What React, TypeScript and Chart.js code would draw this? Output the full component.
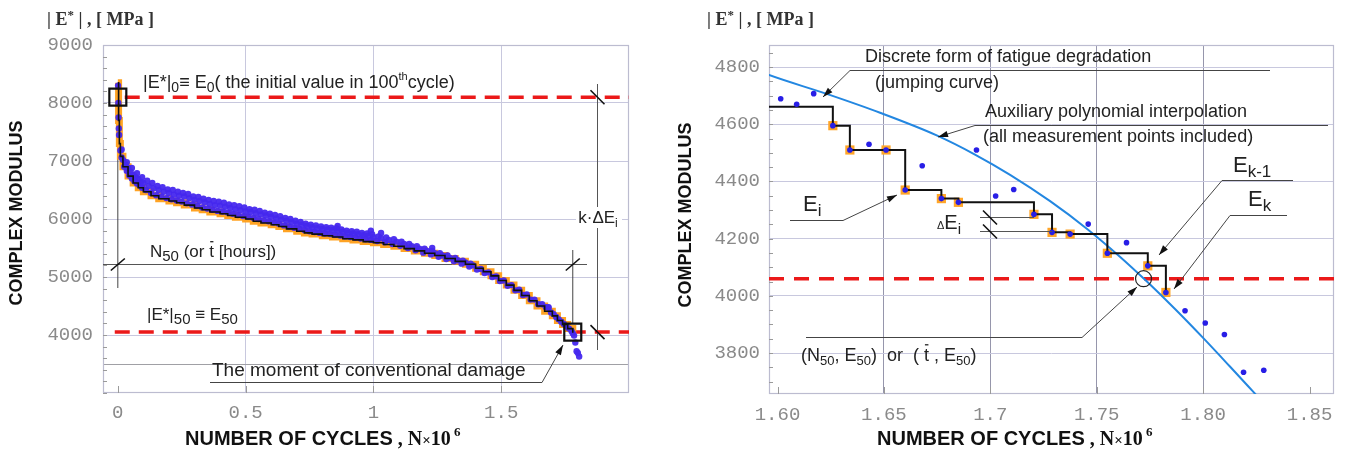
import React, { useEffect, useRef } from "react";
import { Chart, registerables } from "chart.js";

Chart.register(...registerables);

const SANS = '"Liberation Sans", Arial, Helvetica, sans-serif';
const SERIF = '"Liberation Serif", "Times New Roman", serif';
const MONO = '"Liberation Mono", "Courier New", monospace';

// ---------------- LEFT PANEL DATA ----------------
const leftXTicks = [0, 0.5, 1, 1.5];
const leftXLabels = ["0", "0.5", "1", "1.5"];
const leftYTicks = [3500, 4000, 5000, 6000, 7000, 8000, 9000];
const leftE0 = 8100;
const leftE50 = 4050;
const leftN50 = 1.78;

// measured points (blue cloud)
const leftMeasured: [number, number][] = [
  [0.001, 8300], [0.002, 8000], [0.003, 7750], [0.004, 7560], [0.005, 7450], [0.01, 7180], [0.015, 7060], [0.02, 7020],
  [0.025, 6900], [0.03, 6940], [0.035, 6830], [0.04, 6880], [0.045, 6750], [0.05, 6810], [0.055, 6700], [0.06, 6760],
  [0.065, 6650], [0.07, 6720], [0.075, 6610], [0.08, 6690], [0.085, 6580], [0.09, 6640], [0.095, 6540], [0.1, 6620],
  [0.11, 6500], [0.12, 6570], [0.13, 6450], [0.14, 6530], [0.15, 6410], [0.16, 6500], [0.17, 6390], [0.18, 6470],
  [0.19, 6360], [0.2, 6450], [0.21, 6340], [0.22, 6420], [0.23, 6320], [0.24, 6400], [0.25, 6300], [0.26, 6390],
  [0.27, 6270], [0.28, 6360], [0.29, 6250], [0.3, 6330], [0.31, 6230], [0.32, 6310], [0.33, 6200], [0.34, 6290],
  [0.35, 6180], [0.36, 6260], [0.37, 6160], [0.38, 6240], [0.39, 6140], [0.4, 6230], [0.41, 6130], [0.42, 6210],
  [0.43, 6110], [0.44, 6190], [0.45, 6090], [0.46, 6170], [0.47, 6070], [0.48, 6150], [0.49, 6050], [0.5, 6130],
  [0.51, 6040], [0.52, 6120], [0.53, 6020], [0.54, 6100], [0.55, 6000], [0.56, 6080], [0.57, 5980], [0.58, 6060],
  [0.59, 5960], [0.6, 6040], [0.61, 5940], [0.62, 6010], [0.63, 5920], [0.64, 5990], [0.65, 5890], [0.66, 5970],
  [0.67, 5870], [0.68, 5950], [0.69, 5850], [0.7, 5920], [0.71, 5830], [0.72, 5900], [0.73, 5810], [0.74, 5880],
  [0.75, 5790], [0.76, 5860], [0.77, 5775], [0.78, 5840], [0.79, 5760], [0.8, 5830], [0.81, 5750], [0.82, 5820],
  [0.83, 5740], [0.84, 5810], [0.85, 5730], [0.86, 5800], [0.87, 5715], [0.88, 5780], [0.89, 5700], [0.9, 5760],
  [0.91, 5690], [0.92, 5750], [0.93, 5680], [0.94, 5740], [0.95, 5665], [0.96, 5720], [0.97, 5650], [0.98, 5710],
  [0.99, 5640], [1.0, 5690], [1.015, 5620], [1.03, 5670], [1.045, 5600], [1.06, 5640], [1.075, 5570], [1.09, 5610],
  [1.105, 5540], [1.12, 5570], [1.135, 5500], [1.15, 5530], [1.165, 5460], [1.18, 5490], [1.195, 5420], [1.21, 5450],
  [1.225, 5390], [1.24, 5410], [1.255, 5350], [1.27, 5370], [1.285, 5310], [1.3, 5330], [1.315, 5270], [1.33, 5290],
  [1.345, 5230], [1.36, 5250], [1.375, 5180], [1.39, 5200], [1.405, 5130], [1.42, 5140], [1.435, 5070], [1.45, 5080],
  [1.465, 5000], [1.48, 5010], [1.495, 4930], [1.51, 4940], [1.525, 4850], [1.54, 4860], [1.555, 4770], [1.57, 4780],
  [1.585, 4690], [1.6, 4700], [1.615, 4610], [1.63, 4610], [1.645, 4530], [1.66, 4530], [1.675, 4480], [1.685, 4470],
  [1.695, 4390], [1.705, 4360], [1.715, 4310], [1.725, 4270], [1.735, 4230], [1.745, 4190], [1.755, 4150], [1.765, 4110],
  [1.775, 4070], [1.78, 4030], [1.785, 3990], [1.79, 3870], [1.795, 3720], [1.8, 3690], [1.805, 3630],
  // upper edge of the scatter band
  [0.015, 7200], [0.035, 6980], [0.055, 6880], [0.075, 6790], [0.095, 6720], [0.115, 6660], [0.135, 6620], [0.155, 6570],
  [0.175, 6550], [0.195, 6510], [0.215, 6500], [0.235, 6470], [0.255, 6450], [0.275, 6430], [0.295, 6390], [0.315, 6380],
  [0.335, 6350], [0.355, 6330], [0.375, 6310], [0.395, 6300], [0.415, 6280], [0.435, 6250], [0.455, 6240], [0.475, 6220],
  [0.495, 6200], [0.515, 6170], [0.535, 6160], [0.555, 6140], [0.575, 6110], [0.595, 6090], [0.615, 6070], [0.635, 6050],
  [0.655, 6020], [0.675, 6000], [0.695, 5970], [0.715, 5950], [0.735, 5920], [0.755, 5900], [0.775, 5890], [0.795, 5870],
  [0.815, 5860], [0.835, 5850], [0.855, 5840], [0.875, 5820], [0.895, 5800], [0.915, 5790], [0.935, 5780], [0.955, 5760],
  [0.975, 5750], [0.995, 5740], [1.02, 5700], [1.05, 5680], [1.08, 5650], [1.11, 5610], [1.14, 5570], [1.17, 5530],
  [1.2, 5490], [1.23, 5450], [1.26, 5410], [1.29, 5370], [1.32, 5330], [1.35, 5280], [1.38, 5230],
  // isolated outliers
  [0.86, 5880], [0.99, 5800], [1.03, 5760], [1.23, 5500], [1.685, 4480],
];

// discrete (jumping) values
const leftSteps: [number, number][] = [
  [0, 8350], [0.003, 7700], [0.006, 7300], [0.01, 7080], [0.02, 6900], [0.04, 6740], [0.06, 6620], [0.08, 6540],
  [0.1, 6470], [0.13, 6400], [0.16, 6350], [0.2, 6310], [0.23, 6280], [0.26, 6240], [0.3, 6190], [0.33, 6160],
  [0.36, 6120], [0.4, 6090], [0.43, 6060], [0.46, 6030], [0.5, 6000], [0.53, 5960], [0.56, 5930], [0.6, 5900],
  [0.63, 5870], [0.66, 5830], [0.7, 5790], [0.73, 5760], [0.76, 5740], [0.8, 5710], [0.84, 5690], [0.88, 5660],
  [0.92, 5640], [0.96, 5610], [1.0, 5590], [1.04, 5560], [1.08, 5530], [1.12, 5490], [1.16, 5450], [1.2, 5410],
  [1.24, 5370], [1.28, 5320], [1.32, 5270], [1.36, 5220], [1.4, 5150], [1.43, 5090], [1.46, 5020], [1.49, 4940],
  [1.52, 4860], [1.55, 4770], [1.58, 4680], [1.61, 4590], [1.64, 4500], [1.67, 4410], [1.7, 4330], [1.72, 4250],
  [1.74, 4180], [1.76, 4110], [1.78, 4040],
];

// ---------------- RIGHT PANEL DATA ----------------
const rightXTicks = [1.6, 1.65, 1.7, 1.75, 1.8, 1.85];
const rightXLabels = ["1.60", "1.65", "1.7", "1.75", "1.80", "1.85"];
const rightYTicks = [3800, 4000, 4200, 4400, 4600, 4800];
const rightE50 = 4060;
const rightN50 = 1.772;

const rightMeasured: [number, number][] = [
  [1.6015, 4689], [1.609, 4670], [1.617, 4707], [1.626, 4595], [1.634, 4510], [1.643, 4530], [1.651, 4510],
  [1.66, 4370], [1.668, 4455], [1.677, 4340], [1.685, 4327], [1.6935, 4510], [1.7025, 4349], [1.711, 4372],
  [1.7205, 4285], [1.729, 4222], [1.7375, 4216], [1.746, 4251], [1.755, 4149], [1.764, 4186], [1.774, 4105],
  [1.7825, 4012], [1.7915, 3948], [1.801, 3905], [1.81, 3865], [1.819, 3733], [1.8285, 3740],
];

const rightDiscrete: [number, number][] = [
  [1.626, 4595], [1.634, 4510], [1.651, 4510], [1.66, 4370], [1.677, 4340], [1.685, 4327], [1.7205, 4285],
  [1.729, 4222], [1.7375, 4216], [1.755, 4149], [1.774, 4105], [1.7825, 4012],
];
const rightStepStart: [number, number] = [1.59, 4661];

const rightPolynomial: [number, number][] = [
  [1.59, 4790], [1.596, 4772], [1.6231, 4706], [1.6482, 4640], [1.6748, 4561], [1.6928, 4494], [1.7093, 4423],
  [1.7281, 4331], [1.7455, 4234], [1.7609, 4137], [1.7736, 4050], [1.7868, 3954], [1.8, 3853], [1.8126, 3753],
  [1.8234, 3666], [1.8276, 3632],
];

// ---------------- helpers ----------------
type Pt = [number, number];
const xy = (arr: Pt[]) => arr.map(([x, y]) => ({ x, y }));

type Run = { t: string; size?: number; dy?: number; bar?: boolean; family?: string; weight?: string };

function drawRuns(
  ctx: CanvasRenderingContext2D,
  runs: Run[],
  x: number,
  y: number,
  base: number,
  opts: { family?: string; weight?: string; color?: string; align?: "left" | "center" } = {}
) {
  const family = opts.family ?? SANS;
  const weight = opts.weight ?? "normal";
  const color = opts.color ?? "#222";
  const items = runs.map((r) => {
    const size = r.size ?? base;
    const font = `${r.weight ?? weight} ${size}px ${r.family ?? family}`;
    ctx.font = font;
    return { r, size, font, w: ctx.measureText(r.t).width };
  });
  const total = items.reduce((s, it) => s + it.w, 0);
  let cx = opts.align === "center" ? x - total / 2 : x;
  ctx.fillStyle = color;
  ctx.textAlign = "left";
  ctx.textBaseline = "alphabetic";
  for (const it of items) {
    ctx.font = it.font;
    const yy = y + (it.r.dy ?? 0);
    ctx.fillText(it.r.t, cx, yy);
    if (it.r.bar) {
      ctx.save();
      ctx.strokeStyle = color;
      ctx.lineWidth = 1.3;
      ctx.beginPath();
      ctx.moveTo(cx + 1, yy - it.size * 0.9);
      ctx.lineTo(cx + it.w - 0.5, yy - it.size * 0.9);
      ctx.stroke();
      ctx.restore();
    }
    cx += it.w;
  }
  return total;
}

function poly(ctx: CanvasRenderingContext2D, pts: Pt[], color = "#555", width = 1) {
  ctx.save();
  ctx.strokeStyle = color;
  ctx.lineWidth = width;
  ctx.setLineDash([]);
  ctx.beginPath();
  pts.forEach(([x, y], i) => (i ? ctx.lineTo(x, y) : ctx.moveTo(x, y)));
  ctx.stroke();
  ctx.restore();
}

function arrow(ctx: CanvasRenderingContext2D, pts: Pt[], color = "#444") {
  poly(ctx, pts, color, 1);
  const [x1, y1] = pts[pts.length - 2];
  const [x2, y2] = pts[pts.length - 1];
  const a = Math.atan2(y2 - y1, x2 - x1);
  const L = 10;
  const W = 3.2;
  ctx.save();
  ctx.fillStyle = "#111";
  ctx.beginPath();
  ctx.moveTo(x2, y2);
  ctx.lineTo(x2 - L * Math.cos(a) + W * Math.sin(a), y2 - L * Math.sin(a) - W * Math.cos(a));
  ctx.lineTo(x2 - L * Math.cos(a) - W * Math.sin(a), y2 - L * Math.sin(a) + W * Math.cos(a));
  ctx.closePath();
  ctx.fill();
  ctx.restore();
}

function slash(ctx: CanvasRenderingContext2D, x: number, y: number, dir: "/" | "\\") {
  if (dir === "/") poly(ctx, [[x - 7, y + 6], [x + 7, y - 6]], "#111", 1.6);
  else poly(ctx, [[x - 7, y - 7], [x + 7, y + 7]], "#111", 1.6);
}

function yTitle(ctx: CanvasRenderingContext2D, x: number, y: number) {
  ctx.save();
  ctx.translate(x, y);
  ctx.rotate(-Math.PI / 2);
  ctx.font = `bold 18px ${SANS}`;
  ctx.fillStyle = "#111";
  ctx.textAlign = "center";
  ctx.textBaseline = "middle";
  ctx.fillText("COMPLEX MODULUS", 0, 0);
  ctx.restore();
}

function xTitle(ctx: CanvasRenderingContext2D, x: number, y: number) {
  drawRuns(
    ctx,
    [
      { t: "NUMBER OF CYCLES", family: SANS },
      { t: " , ", family: SERIF },
      { t: "N", family: SERIF },
      { t: "\u00d7", family: SERIF, size: 15 },
      { t: "10", family: SERIF },
      { t: " 6", family: SERIF, size: 13, dy: -9 },
    ],
    x,
    y,
    20,
    { weight: "bold", color: "#111" }
  );
}

function unitLabel(ctx: CanvasRenderingContext2D, x: number, y: number) {
  drawRuns(
    ctx,
    [{ t: "| E" }, { t: "*", size: 13, dy: -6 }, { t: " | , [ MPa ]" }],
    x,
    y,
    18,
    { family: SERIF, weight: "bold", color: "#333" }
  );
}

function minorTicks(ctx: CanvasRenderingContext2D, chart: any, yValues: number[], xValues: number[]) {
  const a = chart.chartArea;
  const sx = chart.scales.x;
  const sy = chart.scales.y;
  ctx.save();
  ctx.strokeStyle = "#9a9a9a";
  ctx.lineWidth = 1;
  ctx.beginPath();
  for (const v of yValues) {
    const y = Math.round(sy.getPixelForValue(v)) + 0.5;
    ctx.moveTo(a.left, y);
    ctx.lineTo(a.left + 4, y);
  }
  for (const v of xValues) {
    const x = Math.round(sx.getPixelForValue(v)) + 0.5;
    ctx.moveTo(x, a.bottom);
    ctx.lineTo(x, a.bottom - 7);
  }
  ctx.stroke();
  ctx.restore();
}

function frame(ctx: CanvasRenderingContext2D, a: any) {
  ctx.save();
  ctx.strokeStyle = "rgb(188,188,208)";
  ctx.lineWidth = 1.2;
  ctx.strokeRect(Math.round(a.left) + 0.5, Math.round(a.top) + 0.5, Math.round(a.right - a.left) - 1, Math.round(a.bottom - a.top) - 1);
  ctx.restore();
}

// minor tick positions (axis decoration)
const leftMinorY = [3000, 3200, 3400, 3600, 3800, 4000, 4200, 4400, 4600, 4800, 5000, 5200, 5400, 5600, 5800, 6000, 6200, 6400, 6600, 6800, 7000, 7200, 7400, 7600, 7800, 8000, 8200, 8400, 8600, 8800];
const rightMinorY = [3700, 3750, 3800, 3850, 3900, 3950, 4000, 4050, 4100, 4150, 4200, 4250, 4300, 4350, 4400, 4450, 4500, 4550, 4600, 4650, 4700, 4750, 4800, 4850];

// ---------------- chart configs ----------------
const LEFT_W = 655;
const RIGHT_X = 655;
const RIGHT_W = 691;
const H = 452;

const gridLav = "rgb(200,200,222)";

function leftConfig(): any {
  const plugin = {
    id: "leftAnnotations",
    beforeDatasetsDraw(chart: any) {
      const ctx = chart.ctx as CanvasRenderingContext2D;
      const a = chart.chartArea;
      const X = (v: number) => chart.scales.x.getPixelForValue(v);
      const Y = (v: number) => chart.scales.y.getPixelForValue(v);
      frame(ctx, a);
      minorTicks(ctx, chart, leftMinorY, leftXTicks);
      poly(ctx, [[a.left, 264.5], [587, 264.5]], "#555", 1);
      poly(ctx, [[X(0), Y(leftE0) + 9], [X(0), 288]], "#444", 1);
      poly(ctx, [[X(leftN50), 250], [X(leftN50), Y(leftE50) - 9]], "#444", 1);
      poly(ctx, [[597.5, 84], [597.5, 350]], "#555", 1);
    },
    afterDatasetsDraw(chart: any) {
      const ctx = chart.ctx as CanvasRenderingContext2D;
      const X = (v: number) => chart.scales.x.getPixelForValue(v);
      const Y = (v: number) => chart.scales.y.getPixelForValue(v);
      slash(ctx, X(0), 264.5, "/");
      slash(ctx, X(leftN50), 264.5, "/");
      slash(ctx, 597.5, Y(leftE0), "\\");
      slash(ctx, 597.5, Y(leftE50), "\\");
      // k·ΔEi label
      ctx.save();
      ctx.fillStyle = "#fff";
      ctx.fillRect(576, 207, 46, 21);
      ctx.restore();
      drawRuns(ctx, [{ t: "k\u00b7\u0394E" }, { t: "i", size: 12, dy: 4 }], 598, 223, 17, { align: "center" });
      drawRuns(
        ctx,
        [
          { t: "|E*|" }, { t: "0", size: 14, dy: 4 }, { t: "\u2261 E" }, { t: "0", size: 14, dy: 4 },
          { t: "( the initial value in 100" }, { t: "th", size: 11, dy: -8 }, { t: "cycle)" },
        ],
        143, 88, 18
      );
      drawRuns(
        ctx,
        [{ t: "N" }, { t: "50", size: 15, dy: 4 }, { t: " (or " }, { t: "t", bar: true }, { t: " [hours])" }],
        150, 257, 17
      );
      drawRuns(ctx, [{ t: "|E*|" }, { t: "50", size: 15, dy: 4 }, { t: " \u2261 E" }, { t: "50", size: 15, dy: 4 }], 147, 320, 17);
      drawRuns(ctx, [{ t: "The moment of conventional damage" }], 212, 376, 19);
      arrow(ctx, [[210, 382.5], [542, 382.5], [563, 345]]);
      yTitle(ctx, 17, 213);
      xTitle(ctx, 185, 445);
      unitLabel(ctx, 47, 25);
    },
  };

  return {
    type: "line",
    data: {
      datasets: [
        {
          label: "E0 marker",
          data: xy([[0, leftE0], [leftN50, leftE50]]),
          showLine: false,
          pointStyle: "rect",
          pointRadius: 12,
          pointBorderWidth: 2.2,
          pointBorderColor: "#111",
          pointBackgroundColor: "rgba(0,0,0,0)",
          order: 0,
        },
        {
          label: "Discrete form",
          data: xy(leftSteps),
          stepped: true,
          borderColor: "#111",
          borderWidth: 1.6,
          pointRadius: 0,
          order: 1,
        },
        {
          label: "Measured",
          data: xy(leftMeasured),
          showLine: false,
          pointRadius: 3.2,
          pointBorderWidth: 0,
          pointBackgroundColor: "rgba(70,40,238,0.95)",
          order: 2,
        },
        {
          label: "Discrete points",
          data: xy(leftSteps),
          stepped: true,
          borderColor: "rgb(255,163,35)",
          borderWidth: 7,
          pointRadius: 0,
          order: 3,
        },
        {
          label: "E0",
          data: xy([[0.027, leftE0], [2.0, leftE0]]),
          borderColor: "rgb(235,25,25)",
          borderWidth: 3.5,
          borderDash: [15, 9],
          pointRadius: 0,
          order: 4,
        },
        {
          label: "E50",
          data: xy([[-0.012, leftE50], [2.0, leftE50]]),
          borderColor: "rgb(235,25,25)",
          borderWidth: 3.5,
          borderDash: [15, 9],
          pointRadius: 0,
          order: 4,
        },
      ],
    },
    options: {
      responsive: false,
      animation: false,
      events: [],
      layout: { padding: { left: 0, top: 45, right: LEFT_W - 629, bottom: 0 } },
      plugins: { legend: { display: false }, tooltip: { enabled: false }, title: { display: false } },
      elements: { line: { tension: 0 } },
      scales: {
        x: {
          type: "linear",
          min: -0.058,
          max: 2.0,
          afterBuildTicks: (s: any) => {
            s.ticks = leftXTicks.map((v) => ({ value: v }));
          },
          afterFit: (s: any) => {
            s.height = H - 393;
          },
          border: { display: false },
          grid: {
            drawTicks: false,
            color: (c: any) => (c.tick && c.tick.value === 0 ? "rgba(0,0,0,0)" : gridLav),
          },
          ticks: {
            autoSkip: false,
            maxRotation: 0,
            padding: 9,
            color: "#8a8a8a",
            font: { family: MONO, size: 19 },
            callback: (_v: any, i: number) => leftXLabels[i],
          },
        },
        y: {
          type: "linear",
          min: 3000,
          max: 9000,
          afterBuildTicks: (s: any) => {
            s.ticks = leftYTicks.map((v) => ({ value: v }));
          },
          afterFit: (s: any) => {
            s.width = 103;
          },
          border: { display: false },
          grid: {
            drawTicks: false,
            color: (c: any) => (c.tick && c.tick.value === 3500 ? "rgb(160,160,165)" : gridLav),
          },
          ticks: {
            autoSkip: false,
            padding: 10,
            color: "#8a8a8a",
            font: { family: MONO, size: 19 },
            callback: (v: any) => (v === 3500 ? "" : String(v)),
          },
        },
      },
    },
    plugins: [plugin],
  };
}

function rightConfig(): any {
  const O = RIGHT_X;
  const P = (pts: Pt[]): Pt[] => pts.map(([x, y]) => [x - O, y]);
  const plugin = {
    id: "rightAnnotations",
    beforeDatasetsDraw(chart: any) {
      const ctx = chart.ctx as CanvasRenderingContext2D;
      frame(ctx, chart.chartArea);
      minorTicks(ctx, chart, rightMinorY, rightXTicks);
    },
    afterDatasetsDraw(chart: any) {
      const ctx = chart.ctx as CanvasRenderingContext2D;
      // leaders
      arrow(ctx, P([[1270, 70.5], [850, 70.5], [823, 97]]));
      arrow(ctx, P([[1328, 125.5], [975, 125.5], [938, 137]]));
      arrow(ctx, P([[790, 220.5], [843, 220.5], [897, 195]]));
      arrow(ctx, P([[1293, 180.5], [1222, 180.5], [1159, 255]]));
      arrow(ctx, P([[1287, 215.5], [1230, 215.5], [1174, 289]]));
      arrow(ctx, P([[806, 337.5], [1082, 337.5], [1137, 287]]));
      poly(ctx, P([[980, 217.5], [1034, 217.5]]), "#555", 1);
      poly(ctx, P([[980, 231.5], [1052, 231.5]]), "#555", 1);
      slash(ctx, 990 - O, 217.5, "\\");
      slash(ctx, 990 - O, 231.5, "\\");
      // texts
      drawRuns(ctx, [{ t: "Discrete form of fatigue degradation" }], 865 - O, 62, 18);
      drawRuns(ctx, [{ t: "(jumping curve)" }], 875 - O, 88, 18);
      drawRuns(ctx, [{ t: "Auxiliary polynomial interpolation" }], 985 - O, 117, 18);
      drawRuns(ctx, [{ t: "(all measurement points included)" }], 983 - O, 142, 18);
      drawRuns(ctx, [{ t: "E", size: 22 }, { t: "k-1", size: 17, dy: 5 }], 1233 - O, 172, 22);
      drawRuns(ctx, [{ t: "E", size: 22 }, { t: "k", size: 17, dy: 5 }], 1248 - O, 206, 22);
      drawRuns(ctx, [{ t: "E", size: 22 }, { t: "i", size: 17, dy: 5 }], 803 - O, 211, 22);
      drawRuns(ctx, [{ t: "\u0394", size: 11 }, { t: "E", size: 20 }, { t: "i", size: 15, dy: 5 }], 937 - O, 229, 20);
      drawRuns(
        ctx,
        [
          { t: "(N" }, { t: "50", size: 13, dy: 4 }, { t: ", E" }, { t: "50", size: 13, dy: 4 }, { t: ")  or  ( " },
          { t: "t", bar: true }, { t: " , E" }, { t: "50", size: 13, dy: 4 }, { t: ")" },
        ],
        801 - O, 361, 18
      );
      yTitle(ctx, 686 - O, 215);
      xTitle(ctx, 877 - O, 445);
      unitLabel(ctx, 707 - O, 25);
    },
  };

  return {
    type: "line",
    data: {
      datasets: [
        {
          label: "(N50, E50)",
          data: xy([[rightN50, rightE50]]),
          showLine: false,
          pointStyle: "circle",
          pointRadius: 8,
          pointBorderWidth: 1.2,
          pointBorderColor: "#222",
          pointBackgroundColor: "rgba(0,0,0,0)",
          order: 0,
        },
        {
          label: "Measured",
          data: xy(rightMeasured),
          showLine: false,
          pointRadius: 2.8,
          pointBorderWidth: 0,
          pointBackgroundColor: "rgb(40,30,230)",
          order: 1,
        },
        {
          label: "Jumping curve",
          data: xy([rightStepStart, ...rightDiscrete]),
          stepped: true,
          borderColor: "#111",
          borderWidth: 2,
          pointRadius: 0,
          clip: 0,
          order: 2,
        },
        {
          label: "Polynomial",
          data: xy(rightPolynomial),
          borderColor: "rgb(35,135,225)",
          borderWidth: 2,
          cubicInterpolationMode: "monotone",
          pointRadius: 0,
          clip: 0,
          order: 3,
        },
        {
          label: "Discrete values",
          data: xy(rightDiscrete),
          showLine: false,
          pointStyle: "rect",
          pointRadius: 6.5,
          pointBorderWidth: 0,
          pointBackgroundColor: "rgb(255,165,40)",
          order: 4,
        },
        {
          label: "E50",
          data: xy([[1.596, rightE50], [1.8615, rightE50]]),
          borderColor: "rgb(235,25,25)",
          borderWidth: 3.5,
          borderDash: [15, 10],
          pointRadius: 0,
          order: 5,
        },
      ],
    },
    options: {
      responsive: false,
      animation: false,
      events: [],
      layout: { padding: { left: 0, top: 45, right: RIGHT_W - (1334 - RIGHT_X), bottom: 0 } },
      plugins: { legend: { display: false }, tooltip: { enabled: false }, title: { display: false } },
      elements: { line: { tension: 0 } },
      scales: {
        x: {
          type: "linear",
          min: 1.596,
          max: 1.8615,
          afterBuildTicks: (s: any) => {
            s.ticks = rightXTicks.map((v) => ({ value: v }));
          },
          afterFit: (s: any) => {
            s.height = H - 394;
          },
          border: { display: false },
          grid: {
            drawTicks: false,
            color: (c: any) =>
              c.tick && (c.tick.value === 1.6 || c.tick.value === 1.85) ? "rgba(0,0,0,0)" : "rgb(150,150,172)",
          },
          ticks: {
            autoSkip: false,
            maxRotation: 0,
            padding: 10,
            color: "#8a8a8a",
            font: { family: MONO, size: 19 },
            callback: (_v: any, i: number) => rightXLabels[i],
          },
        },
        y: {
          type: "linear",
          min: 3657,
          max: 4877,
          afterBuildTicks: (s: any) => {
            s.ticks = rightYTicks.map((v) => ({ value: v }));
          },
          afterFit: (s: any) => {
            s.width = 769 - RIGHT_X;
          },
          border: { display: false },
          grid: { drawTicks: false, color: gridLav },
          ticks: {
            autoSkip: false,
            padding: 9,
            color: "#8a8a8a",
            font: { family: MONO, size: 19 },
            callback: (v: any) => String(v),
          },
        },
      },
    },
    plugins: [plugin],
  };
}

function ChartCanvas({ left, width, make }: { left: number; width: number; make: () => any }) {
  const ref = useRef<HTMLCanvasElement>(null);
  useEffect(() => {
    const chart = new Chart(ref.current as HTMLCanvasElement, make());
    return () => chart.destroy();
  }, []);
  return (
    <canvas
      ref={ref}
      width={width}
      height={H}
      style={{ position: "absolute", left, top: 0, width, height: H }}
    />
  );
}

export default function App() {
  return (
    <div style={{ position: "absolute", left: 0, top: 0, width: 1346, height: H, background: "#fff", overflow: "hidden" }}>
      <ChartCanvas left={0} width={LEFT_W} make={leftConfig} />
      <ChartCanvas left={RIGHT_X} width={RIGHT_W} make={rightConfig} />
    </div>
  );
}
